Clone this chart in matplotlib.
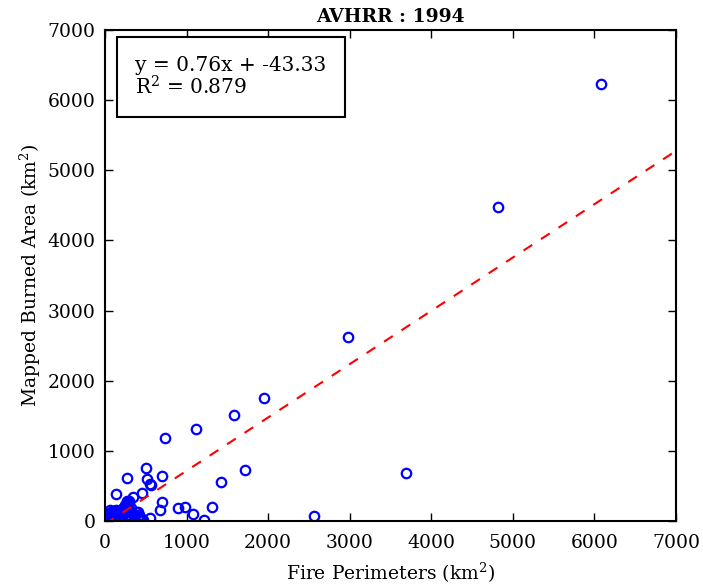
import numpy as np
import matplotlib
matplotlib.use("Agg")
import matplotlib.pyplot as plt

# fire perimeter area vs mapped burned area, km2
fire_perim = [6080, 4820, 2980, 3690, 2560, 1950, 1580, 1110, 740, 1720, 1420,
              500, 270, 520, 700, 550, 560, 140, 450, 340, 270, 700, 680, 900,
              980, 1310, 1080, 1210, 550, 470, 430, 400, 290, 250,
              20, 30, 40, 50, 60, 70, 80, 90, 100, 110, 120, 130, 140, 150,
              160, 170, 180, 190, 200, 210, 220, 230, 240, 250, 260, 270, 280,
              290, 300, 310, 320, 330, 350, 360, 380, 400, 420, 60, 90, 130, 200]
mapped_area = [6230, 4480, 2630, 690, 70, 1760, 1510, 1310, 1180, 730, 560,
               750, 610, 600, 640, 530, 510, 390, 400, 340, 290, 270, 160, 190,
               200, 200, 100, 10, 50, 20, 60, 130, 280, 230,
               10, 50, 100, 20, 80, 130, 40, 110, 60, 140, 20, 90, 150, 30,
               120, 70, 10, 160, 100, 40, 180, 120, 60, 200, 140, 230, 170,
               90, 250, 30, 190, 110, 60, 20, 130, 40, 90, 160, 0, 0, 0]

slope = 0.76
intercept = -43.33
r2 = 0.879

plt.rcParams['font.family'] = 'DejaVu Serif'
plt.rcParams['mathtext.fontset'] = 'dejavuserif'
plt.rcParams['axes.linewidth'] = 1.5

fig = plt.figure(figsize=(7.03, 5.86), dpi=100)
ax = fig.add_axes([0.1494, 0.1109, 0.8122, 0.8379])

ax.plot(fire_perim, mapped_area, 'o', markerfacecolor='none', markeredgecolor='blue',
        markeredgewidth=1.6, markersize=6.8, linestyle='none')

# least-squares line
xl = np.array([0, 7000])
ax.plot(xl, slope * xl + intercept, '--', color='red', linewidth=1.5, dashes=(5, 5))

ax.set_xlim(0, 7000)
ax.set_ylim(0, 7000)
ax.set_xticks(range(0, 7001, 1000))
ax.set_yticks(range(0, 7001, 1000))
ax.tick_params(direction='in', top=True, right=True, length=6, width=1, labelsize=13.5)
ax.tick_params(axis='x', pad=9)
ax.tick_params(axis='y', pad=7)

ax.set_xlabel('Fire Perimeters (km$^2$)', fontsize=13.5, labelpad=7)
ax.set_ylabel('Mapped Burned Area (km$^2$)', fontsize=13.5, labelpad=3)
ax.set_title('AVHRR : 1994', fontsize=13.5, fontweight='bold', pad=6)

ax.text(0.053, 0.948, f'y = {slope:.2f}x + {intercept:.2f}\nR$^2$ = {r2:.3f}',
        transform=ax.transAxes, fontsize=14.5, va='top', ha='left', linespacing=1.05,
        bbox=dict(boxstyle='square,pad=0.9', facecolor='white', edgecolor='black', linewidth=1.5))

fig.savefig('out.png', dpi=100)
